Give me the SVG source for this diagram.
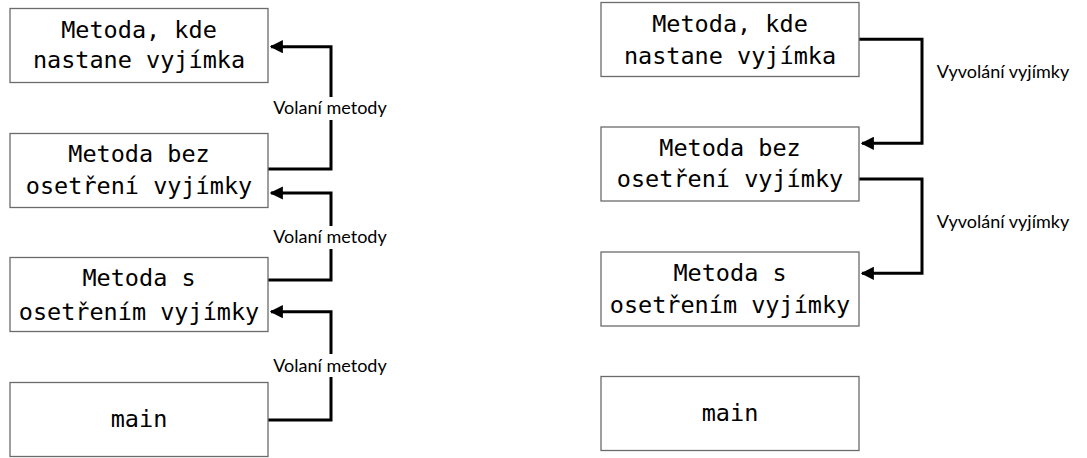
<svg xmlns="http://www.w3.org/2000/svg" width="1087" height="458" viewBox="0 0 1087 458">
<style>
.box{fill:#fff;stroke:#6b6b6b;stroke-width:1.3}
.t{font-family:"DejaVu Sans Mono","Liberation Mono",monospace;font-size:23.5px;fill:#000;text-anchor:middle}
.c{fill:none;stroke:#000;stroke-width:3}
.l{font-family:Lato,"Liberation Sans",sans-serif;font-size:18px;fill:#000}
.bg{fill:#fff}
</style>
<defs>
<marker id="ah" viewBox="0 0 10 10" refX="9" refY="5" markerWidth="4.4" markerHeight="4.4" orient="auto" markerUnits="strokeWidth">
<path d="M0,0 L10,5 L0,10 Z" fill="#000"/>
</marker>
</defs>
<g id="connectors">
<path class="c" d="M268,169 H331 V46.7 H271" marker-end="url(#ah)"/>
<path class="c" d="M268,280 H331 V193 H271" marker-end="url(#ah)"/>
<path class="c" d="M268,420 H331 V311.7 H271" marker-end="url(#ah)"/>
<rect class="bg" x="268" y="97" width="126" height="23"/>
<rect class="bg" x="268" y="226" width="126" height="23"/>
<rect class="bg" x="268" y="354" width="126" height="23"/>
<text class="l" x="330" y="114" text-anchor="middle">Volaní metody</text>
<text class="l" x="330" y="243" text-anchor="middle">Volaní metody</text>
<text class="l" x="330" y="371.5" text-anchor="middle">Volaní metody</text>
<path class="c" d="M859,39.3 H922 V143.3 H862" marker-end="url(#ah)"/>
<path class="c" d="M859,179 H922 V273.3 H862" marker-end="url(#ah)"/>
<text class="l" x="1003" y="77.5" text-anchor="middle">Vyvolání vyjímky</text>
<text class="l" x="1003" y="227.5" text-anchor="middle">Vyvolání vyjímky</text>
</g>
<g id="L1"><rect class="box" x="10" y="8.5" width="258" height="74"/><text class="t" x="139" y="37.5">Metoda, kde</text><text class="t" x="139" y="68">nastane vyjímka</text></g>
<g id="L2"><rect class="box" x="10" y="133.5" width="258" height="74"/><text class="t" x="139" y="162">Metoda bez</text><text class="t" x="139" y="194">osetření vyjímky</text></g>
<g id="L3"><rect class="box" x="10" y="257.5" width="258" height="74"/><text class="t" x="139" y="286">Metoda s</text><text class="t" x="139" y="319.5">osetřením vyjímky</text></g>
<g id="L4"><rect class="box" x="10" y="382.5" width="258" height="74"/><text class="t" x="139" y="427">main</text></g>
<g id="R1"><rect class="box" x="601" y="2.5" width="258" height="74"/><text class="t" x="730" y="32">Metoda, kde</text><text class="t" x="730" y="63.5">nastane vyjímka</text></g>
<g id="R2"><rect class="box" x="601" y="127" width="258" height="74"/><text class="t" x="730" y="155.5">Metoda bez</text><text class="t" x="730" y="187">osetření vyjímky</text></g>
<g id="R3"><rect class="box" x="601" y="252" width="258" height="74"/><text class="t" x="730" y="281">Metoda s</text><text class="t" x="730" y="312.5">osetřením vyjímky</text></g>
<g id="R4"><rect class="box" x="601" y="376.5" width="258" height="74"/><text class="t" x="730" y="421">main</text></g>
</svg>
